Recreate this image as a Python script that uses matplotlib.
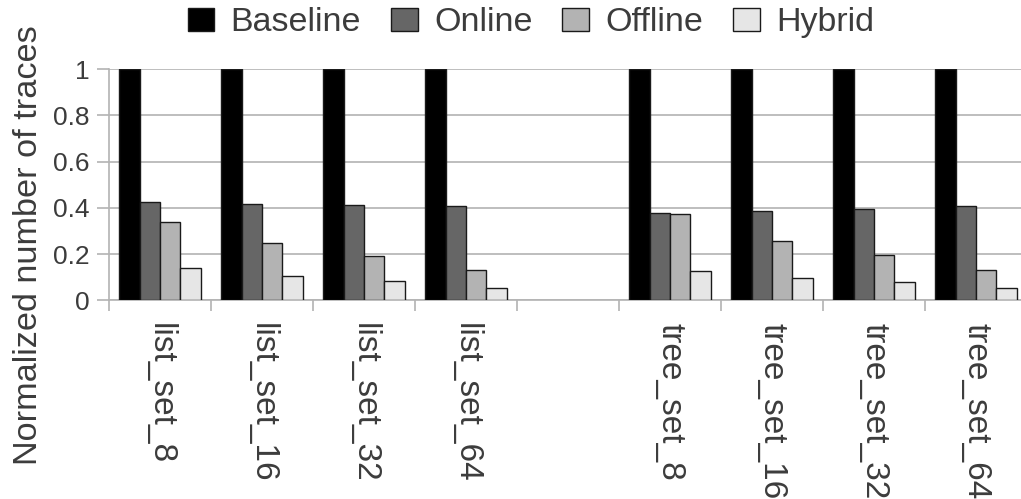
import numpy as np
import matplotlib.pyplot as plt

plt.rcParams['font.family'] = ['Liberation Sans', 'DejaVu Sans']

categories = ["list_set_8", "list_set_16", "list_set_32", "list_set_64", "",
              "tree_set_8", "tree_set_16", "tree_set_32", "tree_set_64"]
series = ["Baseline", "Online", "Offline", "Hybrid"]
baseline = [1, 1, 1, 1, np.nan, 1, 1, 1, 1]
online = [0.426, 0.417, 0.413, 0.410, np.nan, 0.380, 0.386, 0.394, 0.406]
offline = [0.337, 0.250, 0.194, 0.130, np.nan, 0.374, 0.256, 0.196, 0.131]
hybrid = [0.141, 0.104, 0.082, 0.052, np.nan, 0.128, 0.098, 0.078, 0.052]
colors = ["#000000", "#666666", "#b3b3b3", "#e6e6e6"]

txt = "#3c3c3c"
grid_c = "#b3b3b3"

fig = plt.figure(figsize=(10.21, 4.99), dpi=100)
ax = fig.add_axes([109 / 1021, 0.398, 918 / 1021, 0.4635])

x = np.arange(len(categories))
w = 0.2
for k, (name, vals) in enumerate(zip(series, [baseline, online, offline, hybrid])):
    ax.bar(x + (k - 1.5) * w, vals, w, color=colors[k], edgecolor="#1a1a1a",
           linewidth=1.0, label=name, zorder=3)

ax.set_xlim(-0.5, len(categories) - 0.5)
ax.set_ylim(0, 1)
ax.set_yticks([0, 0.2, 0.4, 0.6, 0.8, 1])
ax.set_yticklabels(["0", "0.2", "0.4", "0.6", "0.8", "1"])
ax.yaxis.grid(True, color=grid_c, linewidth=1.2, zorder=0)

# boundaries get the tick marks, centres get the labels
ax.set_xticks(np.arange(len(categories)) - 0.5)
ax.set_xticklabels([])
ax.set_xticks(x, minor=True)
ax.set_xticklabels(categories, minor=True, rotation=270, fontsize=24, color=txt,
                   va="top", ha="center")
ax.tick_params(axis="x", which="major", length=8, color=grid_c, width=1.2)
ax.tick_params(axis="x", which="minor", length=0, pad=16)
ax.tick_params(axis="y", length=9, color=grid_c, width=1.2, labelsize=19,
               labelcolor=txt, pad=5)

for s in ["top", "right"]:
    ax.spines[s].set_visible(False)
for s in ["left", "bottom"]:
    ax.spines[s].set_color(grid_c)
    ax.spines[s].set_linewidth(1.2)

ax.set_ylabel("Normalized number of traces", fontsize=24.7, color=txt)
ax.yaxis.set_label_coords(-0.071, 0.239)

fig.legend(loc="center", bbox_to_anchor=(0.520, 0.954), ncol=4, frameon=False,
           fontsize=24.5, handlelength=0.78, handleheight=0.66, handletextpad=0.48,
           columnspacing=0.88, labelcolor=txt, borderpad=0)

fig.savefig("out.png", dpi=100)
